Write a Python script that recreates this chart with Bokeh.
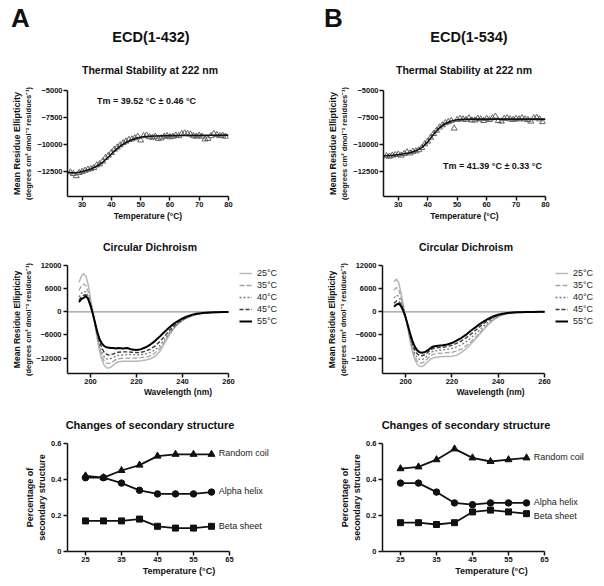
from bokeh.plotting import figure
from bokeh.models import (Range1d, LinearAxis, FixedTicker, Label, Legend, LegendItem, Div)
from bokeh.layouts import column, row
from bokeh.embed import file_html
from bokeh.resources import INLINE

FONT = "Liberation Sans"
INK = "#111111"

# ---------------- Thermal stability at 222 nm ----------------
therm_temp = list(range(26, 80))
therm_a = [-12550, -12700, -12900, -12600, -12500, -12400, -12300, -12250, -12150, -11900,
           -11800, -11550, -11200, -11000, -10750, -10450, -10250, -10050, -9850, -9700,
           -9550, -9500, -9400, -9250, -9600, -9200, -9150, -9300, -9350, -9250,
           -9450, -9400, -9250, -9200, -9300, -9250, -9150, -9200, -9000, -8950,
           -9000, -9050, -9200, -9250, -9150, -9250, -9500, -9450, -9200, -9000,
           -9100, -9200, -9150, -9250]
therm_a_fit_t = [25, 27, 29, 31, 33, 35, 37, 39, 41, 43, 45, 47, 49, 51, 53, 55, 60, 65, 70, 75, 80]
therm_a_fit = [-12550, -12620, -12560, -12420, -12250, -12000, -11650, -11150, -10600, -10150,
               -9800, -9550, -9380, -9280, -9230, -9200, -9170, -9160, -9150, -9140, -9130]
therm_b = [-11050, -11100, -11000, -10950, -10900, -11000, -10850, -10700, -10800, -10650,
           -10600, -10500, -10300, -9950, -9700, -9350, -9000, -8700, -8400, -8200,
           -8000, -7900, -7800, -8500, -7700, -7600, -7650, -7700, -7550, -7750,
           -7750, -7600, -7650, -7800, -7600, -7700, -7550, -7400, -7800, -7850,
           -7600, -7550, -7650, -7700, -7600, -7650, -7550, -7650, -7700, -7850,
           -7550, -7500, -7650, -7900]
therm_b_fit_t = [25, 28, 31, 34, 36, 38, 40, 42, 44, 46, 48, 50, 52, 55, 60, 65, 70, 75, 80]
therm_b_fit = [-11050, -10980, -10900, -10750, -10580, -10280, -9750, -9050, -8450, -8050,
               -7820, -7700, -7660, -7650, -7650, -7650, -7650, -7650, -7650]
therm_ticks_x = [30, 40, 50, 60, 70, 80]
therm_ticks_y = [-12500, -10000, -7500, -5000]

# ---------------- Circular dichroism ----------------
cd_wl = [195, 196, 197, 198, 199, 200, 201, 202, 203, 204, 205, 206, 207, 208, 209, 210, 211,
         212, 214, 216, 218, 220, 222, 224, 226, 228, 230, 232, 234, 236, 238, 240, 242, 244,
         246, 248, 250, 252, 255, 258, 260]
cd_labels = ["25°C", "35°C", "40°C", "45°C", "55°C"]

cd_a_25 = [7600, 9200, 9900, 9300, 7000, 3500, 300, -3500, -7200, -10300, -12500, -13900, -14500,
           -14600, -14300, -13800, -13300, -13000, -12800, -12800, -12800, -12800, -12700, -12500,
           -12200, -11600, -10400, -8400, -6300, -4500, -3200, -2300, -1600, -1100, -700, -450,
           -300, -200, -120, -60, -40]
cd_a_35 = [5500, 6700, 7200, 6800, 5100, 2500, -200, -3500, -6800, -9600, -11600, -12800, -13300,
           -13400, -13200, -12800, -12400, -12200, -12000, -12000, -12000, -12000, -11900, -11700,
           -11400, -10700, -9600, -7900, -6000, -4400, -3100, -2200, -1550, -1050, -680, -440,
           -300, -200, -120, -60, -40]
cd_a_40 = [3800, 4800, 5300, 5100, 4000, 2000, -300, -3200, -6200, -8700, -10500, -11700, -12200,
           -12300, -12100, -11800, -11500, -11300, -11200, -11100, -11100, -11200, -11100, -10900,
           -10500, -9900, -8800, -7300, -5700, -4200, -3000, -2150, -1500, -1000, -650, -420,
           -290, -190, -110, -60, -40]
cd_a_45 = [3000, 3800, 4300, 4400, 3500, 1700, -400, -3000, -5700, -7900, -9500, -10500, -11000,
           -11200, -11100, -10900, -10700, -10500, -10400, -10400, -10500, -10600, -10500, -10200,
           -9700, -8900, -7800, -6500, -5100, -3800, -2800, -2000, -1400, -950, -620, -400,
           -280, -180, -100, -50, -40]
cd_a_55 = [2500, 3300, 3600, 4100, 3300, 1600, -500, -2900, -5300, -7200, -8300, -8900, -9200,
           -9300, -9400, -9400, -9500, -9400, -9500, -9400, -9800, -9900, -9700, -9200,
           -8500, -7600, -6500, -5300, -4200, -3200, -2400, -1700, -1200, -800, -520, -350,
           -250, -170, -100, -50, -40]

cd_b_25 = [7800, 8500, 7600, 4800, 1800, -1200, -4500, -7800, -10600, -12500, -13600, -14100, -14200,
           -13900, -13300, -12700, -12200, -11900, -11700, -11600, -11600, -11500, -11300, -10600,
           -9700, -8500, -7200, -5800, -4400, -3100, -2100, -1300, -800, -500, -300, -200,
           -140, -100, -60, -30, -20]
cd_b_35 = [5600, 6300, 5800, 3700, 1300, -1300, -4300, -7300, -9900, -11700, -12800, -13200, -13300,
           -13000, -12400, -11800, -11300, -11000, -10800, -10700, -10600, -10500, -10200, -9700,
           -8900, -7900, -6700, -5400, -4100, -2900, -1950, -1250, -750, -450, -280, -180,
           -130, -90, -50, -25, -15]
cd_b_40 = [3600, 4300, 4000, 2700, 900, -1400, -4000, -6800, -9200, -10900, -11900, -12300, -12400,
           -12100, -11600, -11000, -10500, -10200, -10000, -9900, -9700, -9500, -9100, -8600,
           -7800, -6900, -5800, -4700, -3500, -2500, -1700, -1100, -650, -400, -250, -160,
           -110, -80, -45, -20, -15]
cd_b_45 = [2200, 2800, 2700, 1900, 500, -1500, -3800, -6300, -8500, -10000, -10900, -11300, -11400,
           -11200, -10800, -10300, -9800, -9500, -9300, -9200, -9000, -8700, -8200, -7600,
           -6800, -5900, -4900, -3900, -2900, -2100, -1400, -900, -550, -340, -220, -150,
           -100, -70, -40, -20, -10]
cd_b_55 = [1300, 1900, 2100, 1500, 200, -1500, -3600, -5800, -7700, -9100, -10000, -10500, -10600,
           -10500, -10200, -9800, -9300, -9000, -8800, -8700, -8500, -8100, -7500, -6800,
           -6000, -5000, -4100, -3200, -2400, -1700, -1150, -750, -480, -300, -200, -140,
           -100, -70, -40, -20, -10]
cd_ticks_x = [200, 220, 240, 260]
cd_ticks_y = [-12000, -6000, 0, 6000, 12000]

# ---------------- Secondary structure ----------------
ss_temp = [25, 30, 35, 40, 45, 50, 55, 60]
ss_a_coil = [0.42, 0.41, 0.45, 0.48, 0.53, 0.54, 0.54, 0.54]
ss_a_helix = [0.41, 0.41, 0.38, 0.34, 0.32, 0.32, 0.32, 0.33]
ss_a_sheet = [0.17, 0.17, 0.17, 0.18, 0.14, 0.13, 0.13, 0.14]
ss_b_coil = [0.46, 0.47, 0.51, 0.57, 0.52, 0.50, 0.51, 0.52]
ss_b_helix = [0.38, 0.38, 0.33, 0.27, 0.26, 0.27, 0.27, 0.27]
ss_b_sheet = [0.16, 0.16, 0.15, 0.16, 0.22, 0.23, 0.22, 0.21]
ss_names = ["Random coil", "Alpha helix", "Beta sheet"]
ss_ticks_x = [25, 35, 45, 55, 65]
ss_ticks_y = [0.0, 0.2, 0.4, 0.6]

# ---------------- layout geometry (pixels) ----------------
LW, RW = 300, 302


def style_axis(ax, tick_size="7.5px", label_size="8.5px", lab_standoff=2, tick_standoff=2):
    ax.axis_line_width = 1.5
    ax.axis_line_color = INK
    ax.major_tick_line_width = 1.5
    ax.major_tick_line_color = INK
    ax.major_tick_out = 4
    ax.major_tick_in = 0
    ax.minor_tick_out = 0
    ax.minor_tick_in = 0
    ax.minor_tick_line_color = None
    ax.major_label_text_font = FONT
    ax.major_label_text_font_style = "bold"
    ax.major_label_text_font_size = tick_size
    ax.major_label_text_color = INK
    ax.major_label_standoff = tick_standoff
    ax.axis_label_text_font = FONT
    ax.axis_label_text_font_style = "bold"
    ax.axis_label_text_font_size = label_size
    ax.axis_label_text_color = INK
    ax.axis_label_standoff = lab_standoff


def add_outer_label(p, text, size, standoff):
    ax = LinearAxis(axis_label=text, ticker=FixedTicker(ticks=[]), axis_line_color=None,
                    major_tick_out=0, major_tick_in=0, minor_tick_out=0, minor_tick_in=0,
                    major_label_standoff=0, axis_label_standoff=standoff,
                    axis_label_text_font=FONT, axis_label_text_font_style="bold",
                    axis_label_text_font_size=size, axis_label_text_color=INK)
    p.add_layout(ax, "left")


def base_fig(w, h, bl, br, bt, bb, xr, yr):
    p = figure(width=w, height=h, x_range=Range1d(*xr), y_range=Range1d(*yr),
               min_border_left=bl, min_border_right=br, min_border_top=bt, min_border_bottom=bb,
               output_backend="svg", toolbar_location=None, title=None)
    p.outline_line_color = None
    p.xgrid.visible = False
    p.ygrid.visible = False
    p.background_fill_color = "white"
    p.border_fill_color = "white"
    return p


def ext_end(x0, x1, data_w, frame_w):
    # range end so that [x0, x1] covers data_w pixels of a frame_w wide frame
    return x0 + (x1 - x0) * frame_w / data_w


def thermal(left, vals, fit_t, fit_v, tm_text, tm_x, tm_y):
    if left:
        p = base_fig(LW, 152, 67, LW - 67 - 161, 10, 36, (25, 80), (-14800, -5000))
    else:
        p = base_fig(RW, 152, 83, RW - 83 - 162, 10, 36, (25, 80), (-14800, -5000))
    style_axis(p.xaxis[0], lab_standoff=1, tick_standoff=1)
    style_axis(p.yaxis[0], label_size="7.5px", lab_standoff=1, tick_standoff=1)
    p.xaxis[0].ticker = FixedTicker(ticks=therm_ticks_x)
    p.yaxis[0].ticker = FixedTicker(ticks=therm_ticks_y)
    p.xaxis[0].axis_label = "Temperature (°C)"
    p.yaxis[0].axis_label = "(degrees cm² dmol⁻¹ residues⁻¹)"
    add_outer_label(p, "Mean Residue Ellipticity", "9px", 0)
    p.scatter(therm_temp, vals, marker="triangle", size=6, fill_color=None,
              line_color="#555555", line_width=0.9)
    p.line(fit_t, fit_v, line_color=INK, line_width=1.6)
    p.add_layout(Label(x=tm_x, y=tm_y, text=tm_text, text_align="center",
                       text_baseline="middle", text_font=FONT, text_font_style="bold",
                       text_font_size="9px", text_color=INK))
    return p


CD_STYLES = [
    dict(line_color="#b8b8b8", line_width=1.5, line_dash="solid"),
    dict(line_color="#a4a4a4", line_width=1.3, line_dash="5 2"),
    dict(line_color="#7a7a7a", line_width=1.3, line_dash="2 2"),
    dict(line_color="#3c3c3c", line_width=1.4, line_dash="4 2"),
    dict(line_color="#000000", line_width=2.0, line_dash="solid"),
]


def cd(left, series):
    x0, x1 = 190, 260
    if left:
        bl, data_w, frame_w, w, lx = 67, 161, 221, LW, 172
    else:
        bl, data_w, frame_w, w, lx = 82, 162, 216, RW, 173
    p = base_fig(w, 145, bl, w - bl - frame_w, 10, 27,
                 (x0, ext_end(x0, x1, data_w, frame_w)), (-16000, 12000))
    style_axis(p.xaxis[0], lab_standoff=0, tick_standoff=1)
    style_axis(p.yaxis[0], label_size="7.5px", lab_standoff=0)
    p.xaxis[0].bounds = (x0, x1)
    p.xaxis[0].ticker = FixedTicker(ticks=cd_ticks_x)
    p.yaxis[0].ticker = FixedTicker(ticks=cd_ticks_y)
    p.xaxis[0].axis_label = "Wavelength (nm)"
    p.yaxis[0].axis_label = "(degrees cm² dmol⁻¹ residues⁻¹)"
    add_outer_label(p, "Mean Residue Ellipticity", "8.5px", 0)
    p.segment(x0=[x0], y0=[0], x1=[x1], y1=[0], line_color="#9a9a9a", line_width=1.2)
    items = []
    for lab, vals, st in zip(cd_labels, series, CD_STYLES):
        r = p.line(cd_wl, vals, **st)
        items.append(LegendItem(label=lab, renderers=[r]))
    leg = Legend(items=items, location=(lx, 47), orientation="vertical",
                 glyph_width=13, glyph_height=10, label_height=10, spacing=2,
                 padding=0, margin=0, label_standoff=5,
                 label_text_font=FONT, label_text_font_size="9px", label_text_color="#222222",
                 border_line_color=None, background_fill_alpha=0)
    p.add_layout(leg, "center")
    return p


def sec(left, coil, helix, sheet, ypos):
    x0, x1 = 20, 65
    if left:
        bl, frame_w, w = 67, 223, LW
    else:
        bl, frame_w, w = 82, 218, RW
    p = base_fig(w, 147, bl, w - bl - frame_w, 10, 29,
                 (x0, ext_end(x0, x1, 162, frame_w)), (0, 0.6))
    style_axis(p.xaxis[0], label_size="9px", lab_standoff=1, tick_standoff=1)
    style_axis(p.yaxis[0], label_size="9px", lab_standoff=1)
    p.xaxis[0].bounds = (x0, x1)
    p.xaxis[0].ticker = FixedTicker(ticks=ss_ticks_x)
    p.yaxis[0].ticker = FixedTicker(ticks=ss_ticks_y)
    p.xaxis[0].axis_label = "Temperature (°C)"
    p.yaxis[0].axis_label = "secondary structure"
    add_outer_label(p, "Percentage of", "9px", 0)
    for vals, mk, sz in ((coil, "triangle", 7), (helix, "circle", 6.5), (sheet, "square", 6)):
        p.line(ss_temp, vals, line_color=INK, line_width=1.8)
        p.scatter(ss_temp, vals, marker=mk, size=sz, fill_color=INK, line_color=INK)
    for txt, y in zip(ss_names, ypos):
        p.add_layout(Label(x=62, y=y, text=txt, text_align="left", text_baseline="middle",
                           text_font=FONT, text_font_size="9px", text_color="#222222"))
    return p


def text_div(width, height, parts):
    html = (f'<div style="position:relative;width:{width}px;height:{height}px;'
            f"font-family:'Liberation Sans',Arial,sans-serif;font-weight:bold;color:#111;\">"
            + "".join(parts) + "</div>")
    return Div(text=html, width=width, height=height, margin=0)


def centered(text, cx, top, size):
    return (f'<span style="position:absolute;left:{cx - 150}px;width:300px;text-align:center;'
            f'top:{top}px;font-size:{size}px;line-height:{size}px;white-space:nowrap;">{text}</span>')


def lefted(text, left, top, size):
    return (f'<span style="position:absolute;left:{left}px;top:{top}px;font-size:{size}px;'
            f'line-height:{size}px;white-space:nowrap;">{text}</span>')


head_l = text_div(LW, 80, [lefted("A", 11, 5, 26), centered("ECD(1-432)", 151, 30, 14.5),
                           centered("Thermal Stability at 222 nm", 150, 65, 10.5)])
head_r = text_div(RW, 80, [lefted("B", 24, 5, 26), centered("ECD(1-534)", 169, 30, 14.5),
                           centered("Thermal Stability at 222 nm", 164, 65, 10.5)])
cdt_l = text_div(LW, 23, [centered("Circular Dichroism", 150, 10, 10.5)])
cdt_r = text_div(RW, 23, [centered("Circular Dichroism", 166, 10, 10.5)])
sst_l = text_div(LW, 33, [centered("Changes of secondary structure", 150, 20, 11)])
sst_r = text_div(RW, 33, [centered("Changes of secondary structure", 166, 20, 11)])

tA = thermal(True, therm_a, therm_a_fit_t, therm_a_fit, "Tm = 39.52 °C ± 0.46 °C", 52, -6000)
tB = thermal(False, therm_b, therm_b_fit_t, therm_b_fit, "Tm = 41.39 °C ± 0.33 °C", 62, -12000)
cA = cd(True, [cd_a_25, cd_a_35, cd_a_40, cd_a_45, cd_a_55])
cB = cd(False, [cd_b_25, cd_b_35, cd_b_40, cd_b_45, cd_b_55])
sA = sec(True, ss_a_coil, ss_a_helix, ss_a_sheet, [0.546, 0.335, 0.141])
sB = sec(False, ss_b_coil, ss_b_helix, ss_b_sheet, [0.524, 0.274, 0.196])

layout = column(row(head_l, head_r), row(tA, tB), row(cdt_l, cdt_r), row(cA, cB),
                row(sst_l, sst_r), row(sA, sB))

open("out.html", "w").write(file_html(layout, INLINE))
